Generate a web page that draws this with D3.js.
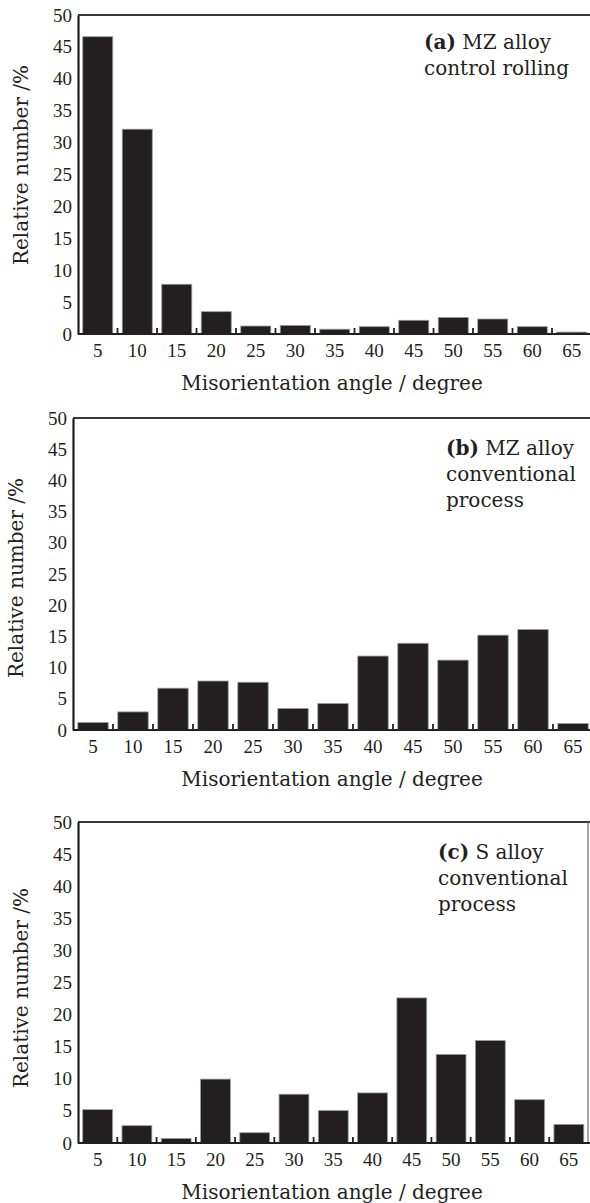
<!DOCTYPE html>
<html>
<head>
<meta charset="utf-8">
<script src="https://cdn.jsdelivr.net/npm/d3@7"></script>
<style>
  html, body { margin: 0; padding: 0; background: #fff; }
  svg { display: block; }
</style>
</head>
<body>
<svg id="chart" width="590" height="1203"></svg>
<script>
// Misorientation angle bins (degrees)
const angles = [5, 10, 15, 20, 25, 30, 35, 40, 45, 50, 55, 60, 65];

// Relative number (%) per bin
const mzControlRolling = [46.6, 32.1, 7.8, 3.5, 1.25, 1.35, 0.75, 1.15, 2.15, 2.6, 2.35, 1.15, 0.3];
const mzConventional   = [1.2, 2.9, 6.7, 7.85, 7.65, 3.45, 4.25, 11.85, 13.9, 11.2, 15.2, 16.1, 1.05];
const sConventional    = [5.2, 2.7, 0.7, 9.95, 1.6, 7.6, 5.05, 7.8, 22.6, 13.8, 15.95, 6.75, 2.9];

// Y axis ticks
const yTicks = [0, 5, 10, 15, 20, 25, 30, 35, 40, 45, 50];

// Panel annotations
const notesA = ["(a)", " MZ alloy", "control rolling"];
const notesB = ["(b)", " MZ alloy", "conventional", "process"];
const notesC = ["(c)", " S alloy", "conventional", "process"];

const xTitle = "Misorientation angle / degree";
const yTitle = "Relative number /%";

const ink = "#231f20";
const svg = d3.select("#chart");

const panels = [
  { values: mzControlRolling, notes: notesA, left: 78, right: 591.5, top: 15, bottom: 334,
    noteX: 424, noteY: 49, yTitleY: 165, rightBorder: false },
  { values: mzConventional, notes: notesB, left: 73, right: 593, top: 418, bottom: 730,
    noteX: 446, noteY: 455, yTitleY: 578, rightBorder: false },
  { values: sConventional, notes: notesC, left: 78, right: 588.5, top: 822, bottom: 1143,
    noteX: 438, noteY: 859, yTitleY: 988, rightBorder: true }
];

panels.forEach(p => {
  const g = svg.append("g");

  const x = d3.scaleBand()
    .domain(angles)
    .range([p.left, p.right])
    .paddingInner(0.24)
    .paddingOuter(0.12);

  const y = d3.scaleLinear()
    .domain([0, 50])
    .range([p.bottom, p.top]);

  // Bars
  g.append("g")
    .selectAll("rect")
    .data(angles.map((a, i) => ({ a, v: p.values[i] })))
    .join("rect")
    .attr("x", d => x(d.a))
    .attr("width", x.bandwidth())
    .attr("y", d => y(d.v))
    .attr("height", d => y(0) - y(d.v))
    .attr("fill", ink)
    .attr("stroke", "#9c9c9c")
    .attr("stroke-width", 0.8);

  // Frame: top border, optional right border
  g.append("line")
    .attr("x1", p.left).attr("x2", 590)
    .attr("y1", y(50)).attr("y2", y(50))
    .attr("stroke", "#3a3637").attr("stroke-width", 2);
  if (p.rightBorder) {
    g.append("line")
      .attr("x1", p.right - 0.5).attr("x2", p.right - 0.5)
      .attr("y1", y(50)).attr("y2", y(0))
      .attr("stroke", "#6a6a6a").attr("stroke-width", 1.2);
  }

  // Y axis (labels only, no tick marks)
  const yAxis = d3.axisLeft(y).tickValues(yTicks).tickSize(0).tickPadding(6);
  const ya = g.append("g")
    .attr("transform", `translate(${p.left},0)`)
    .call(yAxis);
  ya.select(".domain").attr("stroke", ink).attr("stroke-width", 2.2);
  ya.selectAll("text")
    .attr("font-family", "'Liberation Serif', serif")
    .attr("font-size", 19)
    .attr("fill", ink);

  // X axis: category labels under bars
  const xAxis = d3.axisBottom(x).tickSize(0).tickPadding(10);
  const xa = g.append("g")
    .attr("transform", `translate(0,${y(0)})`)
    .call(xAxis);
  xa.select(".domain").remove();
  xa.selectAll("text")
    .attr("font-family", "'Liberation Serif', serif")
    .attr("font-size", 19)
    .attr("fill", ink);

  // Baseline
  g.append("line")
    .attr("x1", p.left).attr("x2", 590)
    .attr("y1", y(0)).attr("y2", y(0))
    .attr("stroke", ink).attr("stroke-width", 2.2);

  // Short inward ticks at bin boundaries
  const step = x.step();
  g.append("g")
    .selectAll("line")
    .data(angles.slice(1))
    .join("line")
    .attr("x1", d => x(d) - (step - x.bandwidth()) / 2)
    .attr("x2", d => x(d) - (step - x.bandwidth()) / 2)
    .attr("y1", y(0))
    .attr("y2", y(0) - 6)
    .attr("stroke", ink)
    .attr("stroke-width", 1.8);

  // Axis titles
  g.append("text")
    .attr("x", 332)
    .attr("y", y(0) + 56)
    .attr("text-anchor", "middle")
    .attr("font-family", "'DejaVu Serif', serif")
    .attr("font-size", 20)
    .attr("fill", ink)
    .text(xTitle);

  g.append("text")
    .attr("transform", `translate(${p.left - 50},${p.yTitleY}) rotate(-90)`)
    .attr("text-anchor", "middle")
    .attr("font-family", "'DejaVu Serif', serif")
    .attr("font-size", 20)
    .attr("fill", ink)
    .text(yTitle);

  // Panel annotation
  const note = g.append("text")
    .attr("font-family", "'DejaVu Serif', serif")
    .attr("font-size", 20)
    .attr("fill", ink);
  const first = note.append("tspan").attr("x", p.noteX).attr("y", p.noteY);
  first.append("tspan").attr("font-weight", "bold").text(p.notes[0]);
  first.append("tspan").text(p.notes[1]);
  p.notes.slice(2).forEach((line, i) => {
    note.append("tspan")
      .attr("x", p.noteX)
      .attr("y", p.noteY + 26 * (i + 1))
      .text(line);
  });
});
</script>
</body>
</html>
